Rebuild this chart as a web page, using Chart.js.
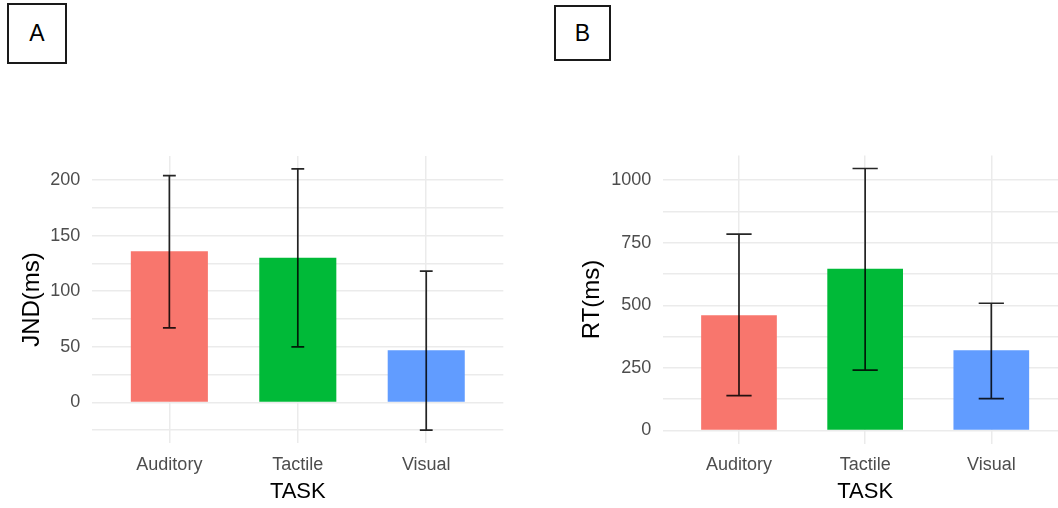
<!DOCTYPE html>
<html>
<head>
<meta charset="utf-8">
<script src="https://cdn.jsdelivr.net/npm/chart.js@4/dist/chart.umd.min.js"></script>
<style>
  body { margin: 0; background: #fff; width: 1058px; height: 508px; overflow: hidden; position: relative; }
  .panel { position: absolute; top: 0; }
  .tag {
    position: absolute; box-sizing: border-box; border: 2px solid #1a1a1a;
    font-family: 'Liberation Sans', Arial, sans-serif; font-size: 23px; color: #000;
    display: flex; align-items: center; justify-content: center;
  }
</style>
</head>
<body>
<div class="tag" style="left:7px; top:3px; width:60px; height:61px;">A</div>
<div class="tag" style="left:554px; top:5px; width:57px; height:56px;">B</div>
<div class="panel" style="left:0px;"><canvas id="chartA" width="529" height="508"></canvas></div>
<div class="panel" style="left:530px;"><canvas id="chartB" width="545" height="508"></canvas></div>
<script>
// datos
const tareas = ['Auditory', 'Tactile', 'Visual'];
const colores = ['#F8766D', '#00BA38', '#619CFF'];

const jndMedias = [136, 130, 47];
const jndInferior = [67, 50, -25];
const jndSuperior = [204, 210, 118];
const jndTicks = [0, 50, 100, 150, 200];
const jndGrid = [-25, 0, 25, 50, 75, 100, 125, 150, 175, 200];

const rtMedias = [460, 646, 320];
const rtInferior = [139, 241, 127];
const rtSuperior = [784, 1046, 508];
const rtTicks = [0, 250, 500, 750, 1000];
const rtGrid = [0, 125, 250, 375, 500, 625, 750, 875, 1000];

// barras de error dibujadas con las escalas del grafico
const errorBars = {
  id: 'errorBars',
  afterDatasetsDraw(chart, args, opts) {
    const ctx = chart.ctx;
    const x = chart.scales.x;
    const y = chart.scales.y;
    ctx.save();
    ctx.strokeStyle = 'rgba(0,0,0,0.85)';
    ctx.lineWidth = 1.7;
    opts.lower.forEach((lo, i) => {
      const hi = opts.upper[i];
      const xc = x.getPixelForValue(i);
      const x0 = x.getPixelForValue(i - opts.cap / 2);
      const x1 = x.getPixelForValue(i + opts.cap / 2);
      const y0 = y.getPixelForValue(lo);
      const y1 = y.getPixelForValue(hi);
      ctx.beginPath();
      ctx.moveTo(xc, y0); ctx.lineTo(xc, y1);
      ctx.moveTo(x0, y0); ctx.lineTo(x1, y0);
      ctx.moveTo(x0, y1); ctx.lineTo(x1, y1);
      ctx.stroke();
    });
    ctx.restore();
  }
};

function crearGrafico(id, cfg) {
  const fuente = 'Liberation Sans';
  return new Chart(document.getElementById(id), {
    type: 'bar',
    data: {
      datasets: [{
        data: cfg.medias.map((v, i) => ({ x: i, y: v })),
        backgroundColor: colores,
        borderWidth: 0,
        barPercentage: 0.6,
        categoryPercentage: 1
      }]
    },
    options: {
      responsive: false,
      animation: false,
      layout: { padding: cfg.padding },
      plugins: {
        legend: { display: false },
        tooltip: { enabled: false },
        errorBars: { lower: cfg.inferior, upper: cfg.superior, cap: cfg.cap }
      },
      scales: {
        x: {
          type: 'linear',
          min: -0.6,
          max: 2.6,
          offset: false,
          afterBuildTicks: axis => { axis.ticks = tareas.map((t, i) => ({ value: i })); },
          afterFit: axis => { axis.height = cfg.altoX; },
          grid: { color: '#ebebeb', lineWidth: 1.5, drawTicks: false, offset: false },
          border: { display: false },
          ticks: {
            autoSkip: false,
            maxRotation: 0,
            padding: 11,
            color: '#4d4d4d',
            font: { family: fuente, size: 18 },
            callback: v => tareas[v]
          },
          title: {
            display: true,
            text: 'TASK',
            color: '#000',
            font: { family: fuente, size: 22 },
            padding: { top: 0, bottom: 3 }
          }
        },
        y: {
          min: cfg.min,
          max: cfg.max,
          afterBuildTicks: axis => { axis.ticks = cfg.grid.map(v => ({ value: v })); },
          afterFit: axis => { axis.width = cfg.anchoY; },
          grid: { color: '#ebebeb', lineWidth: 1.5, drawTicks: false },
          border: { display: false },
          ticks: {
            autoSkip: false,
            padding: 12,
            color: '#4d4d4d',
            font: { family: fuente, size: 18 },
            callback: v => cfg.ticks.includes(v) ? String(v) : ''
          },
          title: {
            display: true,
            text: cfg.tituloY,
            color: '#000',
            font: { family: fuente, size: 24 },
            padding: { top: cfg.padTitulo, bottom: 0 }
          }
        }
      }
    },
    plugins: [errorBars]
  });
}

crearGrafico('chartA', {
  medias: jndMedias, inferior: jndInferior, superior: jndSuperior,
  ticks: jndTicks, grid: jndGrid, min: -36.5, max: 221.6, cap: 0.1,
  tituloY: 'JND(ms)', padTitulo: 18,
  anchoY: 92.3, altoX: 65,
  padding: { top: 156, right: 25.7, bottom: 0, left: 0 }
});

crearGrafico('chartB', {
  medias: rtMedias, inferior: rtInferior, superior: rtSuperior,
  ticks: rtTicks, grid: rtGrid, min: -52, max: 1098, cap: 0.2,
  tituloY: 'RT(ms)', padTitulo: 48,
  anchoY: 133.3, altoX: 64.5,
  padding: { top: 155.5, right: 8, bottom: 0, left: 0 }
});
</script>
</body>
</html>
